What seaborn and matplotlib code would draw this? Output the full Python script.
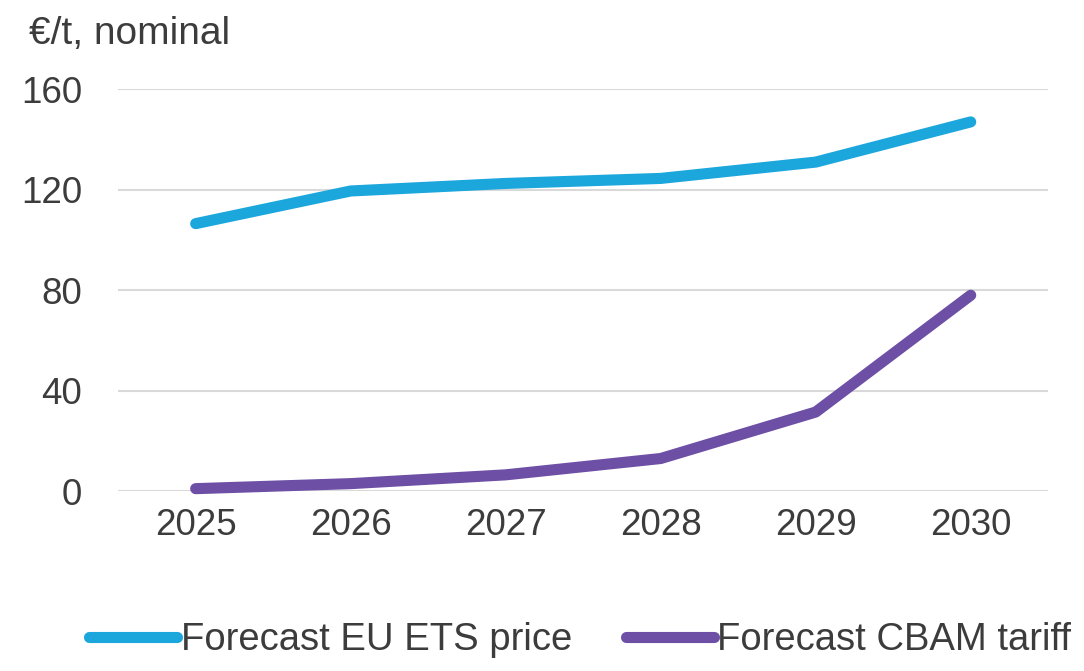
import matplotlib
matplotlib.use("Agg")
import matplotlib.pyplot as plt
import seaborn as sns
import pandas as pd

years = ["2025", "2026", "2027", "2028", "2029", "2030"]
ets_price = [106.5, 119.5, 122.5, 124.5, 131, 147]
cbam_tariff = [1, 3, 6.5, 13, 31.5, 78]
series_names = ["Forecast EU ETS price", "Forecast CBAM tariff"]
y_ticks = [0, 40, 80, 120, 160]
unit_label = "€/t, nominal"

df = pd.DataFrame({
    "year": years * 2,
    "value": ets_price + cbam_tariff,
    "series": [series_names[0]] * len(years) + [series_names[1]] * len(years),
})

sns.set_theme(style="white")
plt.rcParams["font.family"] = ["Liberation Sans", "DejaVu Sans"]

text_color = "#3c3c3c"
fig = plt.figure(figsize=(10.84, 6.71), dpi=100)
ax = fig.add_axes([0.109, 0.268, 0.858, 0.599])

palette = {series_names[0]: "#1ba6dc", series_names[1]: "#6d4fa5"}
sns.lineplot(data=df, x="year", y="value", hue="series", palette=palette,
             linewidth=8, ax=ax, sort=False, legend=True,
             solid_capstyle="round", solid_joinstyle="round")

ax.set_xlim(-0.5, 5.5)
ax.set_ylim(0, 160)
ax.set_yticks(y_ticks)
ax.yaxis.grid(True, color="#d9d9d9", linewidth=1.5)
ax.set_axisbelow(True)
for s in ax.spines.values():
    s.set_visible(False)
for line in ax.get_lines():
    line.set_clip_on(False)

ax.set_xlabel("")
ax.set_ylabel("")
ax.tick_params(axis="both", length=0, labelsize=26.5, labelcolor=text_color)
ax.tick_params(axis="y", pad=26)
ax.tick_params(axis="x", pad=12)

fig.text(0.027, 0.95, unit_label, fontsize=28, color=text_color, va="center")

handles, labels = ax.get_legend_handles_labels()
ax.legend(handles, labels, loc="center", bbox_to_anchor=(0.497, -0.37),
          bbox_transform=ax.transAxes, ncol=2, frameon=False, fontsize=27.5,
          handlelength=2.3, handletextpad=0.1, columnspacing=1.4,
          labelcolor=text_color)

fig.savefig("out.png", dpi=100)
